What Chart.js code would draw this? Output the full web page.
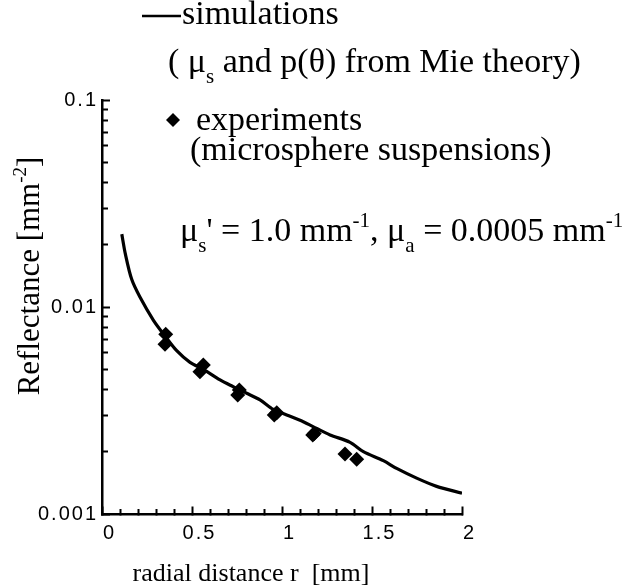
<!DOCTYPE html>
<html><head><meta charset="utf-8">
<script src="https://cdn.jsdelivr.net/npm/chart.js@4.4.0/dist/chart.umd.min.js"></script>
<style>html,body{margin:0;padding:0;background:#fff;}#wrap{width:626px;height:586px;}</style>
</head><body><div id="wrap"><canvas id="c" width="626" height="586"></canvas></div>
<script>
// simulations (mu_s and p(theta) from Mie theory)
const simX = [0.11,0.13,0.165,0.21,0.285,0.35,0.415,0.489,0.563,0.656,0.729,0.804,0.878,0.952,1.026,1.118,1.193,1.267,1.378,1.452,1.563,1.637,1.748,1.859,2.0];
const simY = [0.0225,0.0180,0.0136,0.0112,0.00865,0.00724,0.00615,0.00540,0.00500,0.00444,0.00412,0.00383,0.00356,0.00320,0.00301,0.00279,0.00259,0.00241,0.00222,0.00200,0.00181,0.00166,0.00149,0.00136,0.00126];
// experiments (microsphere suspensions)
const expX = [0.354,0.350,0.563,0.544,0.763,0.754,0.971,0.957,1.179,1.171,1.350,1.415];
const expY = [0.00738,0.00661,0.00525,0.00487,0.00397,0.00376,0.00308,0.00301,0.00245,0.00241,0.00195,0.00184];
// axes
const xTickValues = [0,0.1,0.2,0.3,0.4,0.5,0.6,0.7,0.8,0.9,1,1.1,1.2,1.3,1.4,1.5,1.6,1.7,1.8,1.9,2];
const xTickLabels = [0,0.5,1,1.5,2];
const yTickValues = [0.001,0.002,0.003,0.004,0.005,0.006,0.007,0.008,0.009,0.01,0.02,0.03,0.04,0.05,0.06,0.07,0.08,0.09,0.1];
const yTickLabels = [0.001,0.01,0.1];
const xTitle = 'radial distance r  [mm]';

const near = (a, b) => Math.abs(a - b) < 1e-9 * Math.max(1, Math.abs(b));
const SERIF = '"Liberation Serif", "Times New Roman", serif';
const SANS = '"Liberation Sans", Arial, sans-serif';

function drawParts(ctx, x, y, size, parts) {
  let cx = x;
  for (const [t, mode] of parts) {
    const s = mode ? Math.round(size * 0.62) : size;
    ctx.font = s + 'px ' + SERIF;
    const dy = mode === 1 ? size * 0.33 : (mode === 2 ? -size * 0.42 : 0);
    ctx.fillText(t, cx, y + dy);
    cx += ctx.measureText(t).width;
  }
  return cx - x;
}
function partsWidth(ctx, size, parts) {
  let w = 0;
  for (const [t, mode] of parts) {
    const s = mode ? Math.round(size * 0.62) : size;
    ctx.font = s + 'px ' + SERIF;
    w += ctx.measureText(t).width;
  }
  return w;
}

const spacingPlugin = {
  id: 'spacing',
  beforeLayout(chart) { chart.ctx.letterSpacing = '2px'; },
  beforeDraw(chart) { chart.ctx.letterSpacing = '2px'; }
};

const notesPlugin = {
  id: 'notes',
  afterDraw(chart) {
    const ctx = chart.ctx;
    ctx.save();
    ctx.letterSpacing = '0px';
    ctx.fillStyle = '#000';
    ctx.strokeStyle = '#000';
    ctx.textBaseline = 'alphabetic';
    ctx.textAlign = 'left';
    const FS = 34;
    // legend: simulations
    ctx.lineWidth = 2.5;
    ctx.beginPath(); ctx.moveTo(142, 16); ctx.lineTo(181, 16); ctx.stroke();
    drawParts(ctx, 182, 24, FS, [['simulations', 0]]);
    drawParts(ctx, 168, 72, FS, [['( \u03bc', 0], ['s', 1], [' and p(\u03b8) from Mie theory)', 0]]);
    // legend: experiments
    ctx.beginPath();
    ctx.moveTo(173, 113); ctx.lineTo(180, 120); ctx.lineTo(173, 127); ctx.lineTo(166, 120); ctx.closePath(); ctx.fill();
    drawParts(ctx, 196, 130, FS, [['experiments', 0]]);
    drawParts(ctx, 190, 160, FS, [['(microsphere suspensions)', 0]]);
    drawParts(ctx, 180, 241, FS, [['\u03bc', 0], ['s', 1], ['\' = 1.0 mm', 0], ['-1', 2], [', \u03bc', 0], ['a', 1], [' = 0.0005 mm', 0], ['-1', 2]]);
    // y axis title
    const yParts = [['Reflectance [mm', 0], ['-2', 2], [']', 0]];
    const YS = 31;
    const w = partsWidth(ctx, YS, yParts);
    ctx.save();
    ctx.translate(39, 276);
    ctx.rotate(-Math.PI / 2);
    drawParts(ctx, -w / 2, 0, YS, yParts);
    ctx.restore();
    // x axis title
    ctx.font = '26px ' + SERIF;
    ctx.textAlign = 'center';
    ctx.fillText(xTitle, 251, 581);
    ctx.restore();
  }
};

const chart = new Chart(document.getElementById('c'), {
  type: 'scatter',
  data: {
    datasets: [
      {
        label: 'simulations',
        data: simX.map((x, i) => ({x, y: simY[i]})),
        showLine: true, pointRadius: 0, borderColor: '#000', borderWidth: 3.2, tension: 0.3, fill: false
      },
      {
        label: 'experiments',
        data: expX.map((x, i) => ({x, y: expY[i]})),
        showLine: false, pointStyle: 'rectRot', pointRadius: 7.5, backgroundColor: '#000', borderColor: '#000', borderWidth: 0
      }
    ]
  },
  options: {
    responsive: false, animation: false, devicePixelRatio: 1,
    layout: {padding: {left: 0, top: 100, right: 164, bottom: 0}},
    plugins: {legend: {display: false}, tooltip: {enabled: false}, title: {display: false}},
    scales: {
      x: {
        type: 'linear', min: 0, max: 2,
        afterBuildTicks: s => { s.ticks = xTickValues.map(v => ({value: v, major: xTickLabels.some(l => near(v, l))})); },
        afterFit: s => { s.height = 72; },
        ticks: {
          autoSkip: false, maxRotation: 0, color: '#000', padding: 15, labelOffset: 7.5,
          font: {family: SANS, size: 20},
          callback: v => { const l = xTickLabels.find(t => near(v, t)); return l === undefined ? '' : String(l); }
        },
        grid: {
          drawOnChartArea: false, tickLength: -7.5, tickWidth: 2, tickColor: '#000',
          tickBorderDash: c => (c.tick && c.tick.major) ? [] : [6.5, 40]
        },
        border: {color: '#000', width: 2.5}
      },
      y: {
        type: 'logarithmic', min: 0.001, max: 0.1,
        afterBuildTicks: s => { s.ticks = yTickValues.map(v => ({value: v, major: yTickLabels.some(l => near(v, l))})); },
        afterFit: s => { s.width = 102; },
        ticks: {
          autoSkip: false, color: '#000', padding: 12,
          font: {family: SANS, size: 20},
          callback: v => { const l = yTickLabels.find(t => near(v, t)); return l === undefined ? '' : String(l); }
        },
        grid: {
          drawOnChartArea: false, tickLength: -8, tickWidth: 2, tickColor: '#000',
          tickBorderDash: c => (c.tick && c.tick.major) ? [] : [0, 2, 40, 10]
        },
        border: {color: '#000', width: 2.5}
      }
    }
  },
  plugins: [spacingPlugin, notesPlugin]
});
</script>
</body></html>
